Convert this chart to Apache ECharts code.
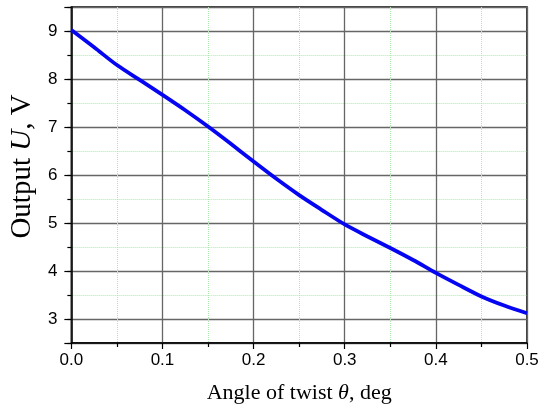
<!DOCTYPE html>
<html>
<head>
<meta charset="utf-8">
<script src="https://cdn.jsdelivr.net/npm/echarts@6/dist/echarts.min.js"></script>
<style>
  html, body { margin: 0; padding: 0; background: #fff; }
  #chart { width: 550px; height: 409px; }
</style>
</head>
<body>
<div id="chart"></div>
<script>
// angle of twist (deg) and output voltage
const angles = [0, 0.025, 0.05, 0.075, 0.1, 0.125, 0.15, 0.175, 0.2, 0.225, 0.25,
  0.275, 0.3, 0.325, 0.35, 0.375, 0.4, 0.425, 0.45, 0.475, 0.5]
const outputU = [9.02, 8.66, 8.29, 7.98, 7.67, 7.35, 7.01, 6.65, 6.28, 5.92, 5.58,
  5.27, 4.97, 4.72, 4.48, 4.23, 3.96, 3.71, 3.47, 3.28, 3.12]

const chart = echarts.init(document.getElementById('chart'))

const serif = '"Liberation Serif", "Times New Roman", serif'
const sans = '"Liberation Sans", Arial, sans-serif'

const richFor = size => ({
  a: { fontFamily: serif, fontSize: size, color: '#000' },
  i: { fontFamily: serif, fontSize: size, fontStyle: 'italic', color: '#000' }
})

const black = { color: '#000', width: 1.2 }
const majorGrid = { color: '#666', width: 1.3 }
const minorGrid = { color: '#aee8ae', width: 1, type: 'dotted' }

const option = {
  animation: false,
  grid: {
    left: 69,
    right: 23,
    top: 7,
    bottom: 66,
    show: true,
    borderColor: '#000',
    borderWidth: 1.5
  },
  xAxis: {
    type: 'value',
    min: 0,
    max: 0.5,
    interval: 0.1,
    name: '{a|Angle of twist }{i|θ}{a|, deg}',
    nameLocation: 'middle',
    nameGap: 39,
    nameTextStyle: { rich: richFor(22) },
    axisLine: { show: true, onZero: false, lineStyle: { color: '#000', width: 1.5 } },
    axisTick: { show: true, inside: false, length: 6, lineStyle: black },
    minorTick: { show: true, splitNumber: 2, length: 4, lineStyle: black },
    axisLabel: {
      fontFamily: sans, fontSize: 17, color: '#000', margin: 9,
      formatter: v => v.toFixed(1)
    },
    splitLine: { show: true, lineStyle: majorGrid },
    minorSplitLine: { show: true, lineStyle: minorGrid }
  },
  yAxis: [{
    // half-unit ticks and dotted minor grid, labels only at whole volts
    type: 'value',
    min: 2.5,
    max: 9.5,
    interval: 0.5,
    name: '{a|Output }{i|U}{a|, V}',
    nameLocation: 'middle',
    nameGap: 33,
    nameRotate: 90,
    nameTextStyle: { rich: richFor(29), padding: [0, 0, 0, 17] },
    axisLine: { show: true, onZero: false, lineStyle: { color: '#000', width: 1.5 } },
    axisTick: { show: true, inside: false, length: 4, lineStyle: black },
    axisLabel: {
      fontFamily: sans, fontSize: 17, color: '#000', margin: 14,
      formatter: v => (Math.abs(v - Math.round(v)) < 1e-6 && v > 2.6 && v < 9.4 ? String(Math.round(v)) : '')
    },
    splitLine: { show: true, lineStyle: minorGrid }
  }, {
    // whole-volt ticks and solid major grid
    type: 'value',
    position: 'left',
    min: 2.5,
    max: 9.5,
    splitNumber: 7,
    axisLine: { show: false },
    axisTick: { show: true, inside: false, length: 7, lineStyle: black },
    axisLabel: { show: false },
    splitLine: { show: true, lineStyle: majorGrid }
  }],
  series: [{
    type: 'line',
    yAxisIndex: 0,
    data: angles.map((a, i) => [a, outputU[i]]),
    smooth: 0.3,
    symbol: 'none',
    lineStyle: { color: '#0505f2', width: 3.8 },
    z: 5
  }]
}

chart.setOption(option)
</script>
</body>
</html>
